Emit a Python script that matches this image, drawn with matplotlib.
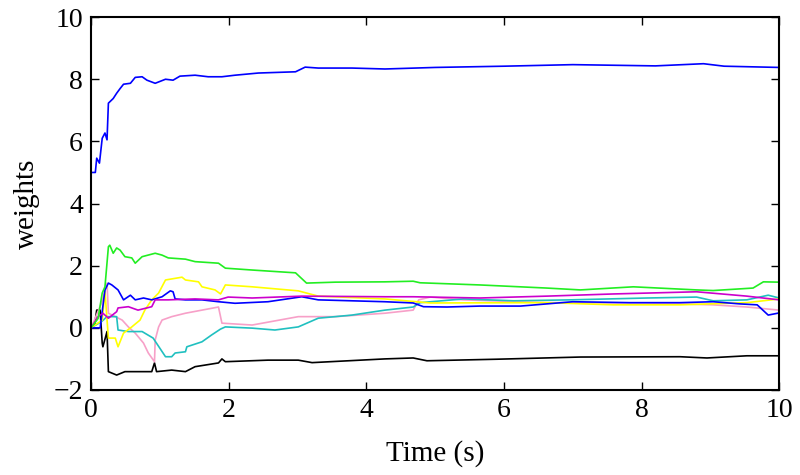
import numpy as np
import matplotlib.pyplot as plt

plt.rcParams['font.family'] = ['Liberation Serif', 'DejaVu Serif']

# weight traces (time in s, weight)
blue_top_t = [0, 0.06, 0.08, 0.12, 0.16, 0.2, 0.23, 0.25, 0.32, 0.37, 0.42, 0.47, 0.57, 0.64, 0.74,
              0.81, 0.93, 1.08, 1.19, 1.29, 1.51, 1.7, 1.9, 2.09, 2.43, 2.97, 3.11, 3.3, 3.79, 4.27,
              5.0, 6.0, 7.0, 8.2, 8.9, 9.2, 10.0]
blue_top_w = [5.0, 5.0, 5.46, 5.3, 6.1, 6.27, 6.05, 7.23, 7.38, 7.55, 7.7, 7.84, 7.87, 8.06, 8.08,
              7.97, 7.87, 8.0, 7.97, 8.1, 8.13, 8.08, 8.08, 8.13, 8.2, 8.24, 8.39, 8.36, 8.36, 8.33,
              8.38, 8.42, 8.47, 8.43, 8.5, 8.42, 8.38]

green_t = [0, 0.1, 0.16, 0.2, 0.25, 0.27, 0.32, 0.37, 0.42, 0.49, 0.59, 0.64, 0.74, 0.93, 1.03,
           1.12, 1.37, 1.51, 1.85, 1.95, 2.34, 2.97, 3.13, 3.55, 4.27, 4.68, 4.78, 5.65, 6.62,
           7.11, 7.88, 8.8, 9.04, 9.62, 9.77, 10.0]
green_w = [0, 0.3, 1.12, 1.32, 2.61, 2.66, 2.4, 2.57, 2.5, 2.29, 2.25, 2.08, 2.29, 2.4, 2.34,
           2.25, 2.21, 2.13, 2.08, 1.92, 1.86, 1.77, 1.44, 1.47, 1.48, 1.5, 1.45, 1.38, 1.28,
           1.22, 1.32, 1.22, 1.2, 1.28, 1.48, 1.47]

blue_t = [0, 0.13, 0.2, 0.25, 0.3, 0.39, 0.47, 0.57, 0.64, 0.76, 0.88, 1.03, 1.15, 1.19, 1.22,
          1.37, 1.61, 1.85, 2.09, 2.57, 3.06, 3.3, 4.27, 4.68, 4.83, 5.17, 5.65, 6.24, 7.0,
          7.83, 8.56, 9.04, 9.43, 9.68, 9.84, 10.0]
blue_w = [0, 0.0, 1.22, 1.44, 1.38, 1.22, 0.9, 1.05, 0.9, 0.96, 0.9, 1.0, 1.19, 1.16, 0.93,
          0.9, 0.9, 0.84, 0.79, 0.84, 1.0, 0.9, 0.84, 0.8, 0.68, 0.67, 0.7, 0.7, 0.84,
          0.81, 0.81, 0.84, 0.77, 0.74, 0.41, 0.48]

yellow_t = [0, 0.16, 0.2, 0.25, 0.35, 0.39, 0.47, 0.59, 0.71, 0.78, 0.88, 0.98, 1.08, 1.32, 1.37,
            1.56, 1.61, 1.8, 1.88, 1.95, 2.34, 3.01, 3.3, 4.27, 4.93, 6.62, 7.59, 8.56, 9.53, 10.0]
yellow_w = [0, 0.25, 1.16, -0.33, -0.33, -0.61, -0.17, 0.03, 0.25, 0.57, 0.9, 1.12, 1.54, 1.63, 1.54,
            1.48, 1.32, 1.22, 1.09, 1.38, 1.32, 1.19, 1.02, 0.93, 0.8, 0.81, 0.74, 0.74, 0.81, 0.93]

magenta_t = [0, 0.1, 0.17, 0.25, 0.37, 0.39, 0.54, 0.68, 0.88, 0.93, 1.12, 1.51, 1.85, 1.99, 2.34,
             3.06, 4.27, 4.68, 5.65, 6.62, 7.59, 8.8, 9.53, 10.0]
magenta_w = [0, 0.36, 0.47, 0.31, 0.52, 0.64, 0.68, 0.57, 0.68, 0.9, 0.9, 0.93, 0.9, 0.99, 0.96,
             1.02, 1.0, 1.0, 0.96, 1.02, 1.09, 1.16, 1.02, 0.9]

cyan_t = [0, 0.15, 0.23, 0.37, 0.39, 0.54, 0.74, 0.9, 1.08, 1.17, 1.22, 1.37, 1.39, 1.61, 1.75,
          1.88, 1.95, 2.34, 2.67, 3.01, 3.3, 3.79, 4.27, 4.68, 4.78, 5.41, 6.14, 6.96, 8.08,
          8.8, 9.04, 9.53, 9.84, 10.0]
cyan_w = [0, 0.2, 0.36, 0.36, -0.07, -0.12, -0.12, -0.33, -0.93, -0.93, -0.81, -0.77, -0.61, -0.45, -0.23,
          -0.04, 0.03, -0.01, -0.07, 0.03, 0.31, 0.41, 0.57, 0.67, 0.81, 0.93, 0.87, 0.9, 0.96,
          0.99, 0.87, 0.9, 1.05, 0.96]

pink_t = [0, 0.15, 0.23, 0.25, 0.35, 0.45, 0.54, 0.64, 0.76, 0.83, 0.92, 0.93, 0.98, 1.03, 1.17,
          1.37, 1.61, 1.85, 1.9, 2.34, 3.01, 3.55, 4.27, 4.68, 4.76, 4.93, 5.41, 6.62, 8.08,
          9.04, 9.53, 10.0]
pink_w = [0, 0.8, 1.44, 0.47, 0.36, 0.25, 0.03, -0.17, -0.49, -0.81, -1.09, -0.39, 0.03, 0.25, 0.36,
          0.47, 0.57, 0.67, 0.15, 0.09, 0.36, 0.36, 0.47, 0.57, 0.9, 0.99, 0.9, 0.81, 0.8,
          0.74, 0.67, 0.57]

black_t = [0, 0.05, 0.08, 0.13, 0.16, 0.17, 0.23, 0.25, 0.37, 0.49, 0.88, 0.92, 0.95, 1.17, 1.37,
           1.51, 1.85, 1.9, 1.95, 2.57, 3.01, 3.21, 4.27, 4.68, 4.88, 5.9, 7.11, 8.56, 8.95,
           9.53, 10.0]
black_w = [0, 0.1, 0.57, 0.57, -0.49, -0.61, -0.12, -1.41, -1.52, -1.41, -1.41, -1.13, -1.41, -1.36, -1.41,
           -1.25, -1.13, -1.0, -1.09, -1.04, -1.04, -1.12, -1.0, -0.97, -1.06, -1.01, -0.94, -0.93, -0.97,
           -0.9, -0.9]

fig = plt.figure(figsize=(8, 4.75), dpi=100)
ax = fig.add_axes([0.114, 0.179, 0.86, 0.785])

lw = 1.2
ax.plot(black_t, black_w, color='black', lw=lw)
ax.plot(pink_t, pink_w, color='#f7a0c8', lw=lw)
ax.plot(cyan_t, cyan_w, color='#20c0c0', lw=lw)
ax.plot(yellow_t, yellow_w, color='#ffff00', lw=lw)
ax.plot(blue_t, blue_w, color='#0000ff', lw=lw)
ax.plot(magenta_t, magenta_w, color='#cc00cc', lw=lw)
ax.plot(green_t, green_w, color='#22ee22', lw=lw)
ax.plot(blue_top_t, blue_top_w, color='#0000ff', lw=lw)

ax.set_xlim(0, 10)
ax.set_ylim(-2, 10)
ax.set_xticks(np.arange(0, 11, 2))
ax.set_yticks(np.arange(-2, 11, 2))
ax.tick_params(direction='in', length=6, width=1, top=True, right=True, labelsize=20, pad=6)
for s in ax.spines.values():
    s.set_linewidth(1.5)
ax.set_xlabel('Time (s)', fontsize=21, labelpad=12)
ax.set_ylabel('weights', fontsize=21, labelpad=10)

fig.savefig('out.png')
